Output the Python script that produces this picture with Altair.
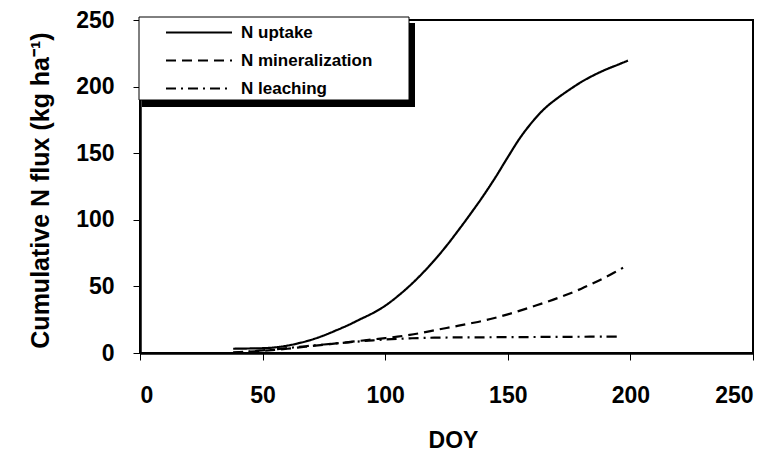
import altair as alt
import pandas as pd

# Cumulative N uptake by the crop (kg ha-1) by day of year
uptake_doy = [38, 45, 50, 55, 60, 65, 70, 75, 80, 85, 90, 95, 100, 105, 110, 115,
              120, 125, 130, 135, 140, 145, 150, 155, 160, 165, 170, 175, 180, 185,
              190, 195, 199]
uptake_val = [3.2, 3.4, 3.6, 4.2, 5.5, 7.5, 10.0, 13.2, 17.0, 21.0, 25.5, 30.0, 35.5,
              42.5, 50.5, 59.5, 69.5, 80.5, 92.5, 105.0, 118.0, 132.0, 147.0, 161.5,
              173.5, 183.5, 191.0, 197.5, 203.5, 208.5, 212.8, 216.5, 219.5]

# Cumulative N mineralization
miner_doy = [38, 45, 50, 55, 60, 65, 70, 75, 80, 85, 90, 95, 100, 105, 110, 115,
             120, 125, 130, 135, 140, 145, 150, 155, 160, 165, 170, 175, 180, 185,
             190, 195, 197]
miner_val = [0.3, 1.0, 1.6, 2.3, 3.2, 4.2, 5.2, 6.2, 7.2, 8.2, 9.2, 10.2, 11.2, 12.3,
             13.6, 15.2, 17.0, 18.8, 20.5, 22.3, 24.2, 26.5, 29.0, 31.8, 34.8, 37.8,
             41.0, 44.5, 48.3, 52.5, 57.0, 62.0, 64.0]

# Cumulative N leaching
leach_doy = [38, 45, 50, 55, 60, 65, 70, 75, 80, 85, 90, 95, 100, 105, 110, 115,
             120, 130, 140, 150, 160, 170, 180, 190, 196]
leach_val = [0.3, 1.2, 2.0, 2.8, 3.7, 4.6, 5.5, 6.4, 7.2, 8.0, 8.8, 9.5, 10.1, 10.6,
             11.0, 11.3, 11.5, 11.7, 11.8, 11.9, 12.0, 12.1, 12.2, 12.3, 12.3]

series_names = ["N uptake", "N mineralization", "N leaching"]
axis_ticks = [0, 50, 100, 150, 200, 250]

frames = []
for name, xs, ys in zip(series_names,
                        [uptake_doy, miner_doy, leach_doy],
                        [uptake_val, miner_val, leach_val]):
    frames.append(pd.DataFrame({"DOY": xs, "flux": ys, "series": name}))
data = pd.DataFrame(pd.concat(frames, ignore_index=True))

FONT = "Liberation Sans"

lines = alt.Chart(data).mark_line(
    color="black", strokeWidth=2.2, interpolate="catmull-rom"
).encode(
    x=alt.X("DOY:Q",
            scale=alt.Scale(domain=[0, 250], nice=False),
            axis=alt.Axis(values=axis_ticks, title="DOY",
                          titleX=313, titleY=87, titleBaseline="middle",
                          labelPadding=24)),
    y=alt.Y("flux:Q",
            scale=alt.Scale(domain=[0, 250], nice=False),
            axis=alt.Axis(values=axis_ticks, title="Cumulative N flux (kg ha⁻¹)",
                          titleX=-100, titleY=170, titleAngle=-90,
                          titleAlign="center", titleBaseline="middle",
                          labelPadding=19)),
    strokeDash=alt.StrokeDash(
        "series:N",
        scale=alt.Scale(domain=series_names,
                        range=[[1, 0], [10, 6], [10, 5, 2, 5]]),
        legend=alt.Legend(
            title=None, orient="none", legendX=25, legendY=4,
            symbolType="stroke", symbolSize=4356, symbolStrokeWidth=2,
            symbolStrokeColor="black", labelOffset=8, clipHeight=17,
            rowPadding=10, padding=0, labelFontSize=17, labelFont=FONT,
            labelFontWeight="bold", labelColor="black",
        ),
    ),
)

# Legend frame with its drop shadow
one_row = pd.DataFrame({"k": [0]})
shadow = alt.Chart(one_row).mark_rect(color="black").encode(
    x=alt.value(2), x2=alt.value(275), y=alt.value(3), y2=alt.value(87)
)
frame = alt.Chart(one_row).mark_rect(
    fill="white", stroke="black", strokeWidth=1
).encode(
    x=alt.value(-1), x2=alt.value(269), y=alt.value(-3), y2=alt.value(80)
)

chart = alt.layer(lines, shadow, frame).properties(
    width=613, height=333,
    autosize="none",
    padding={"left": 140, "top": 20, "right": 27, "bottom": 108},
    background="white",
).configure_view(
    stroke="black", strokeWidth=2
).configure_axis(
    domainColor="black", domainWidth=2.5,
    tickColor="black", tickWidth=1, tickSize=7,
    grid=False,
    labelFont=FONT, labelFontSize=23, labelFontWeight="bold", labelColor="black",
    titleFont=FONT, titleFontSize=23, titleFontWeight="bold", titleColor="black",
).configure_axisY(
    titleFontSize=25
)

chart.save("out.html", embed_options={"renderer": "svg", "actions": False})
